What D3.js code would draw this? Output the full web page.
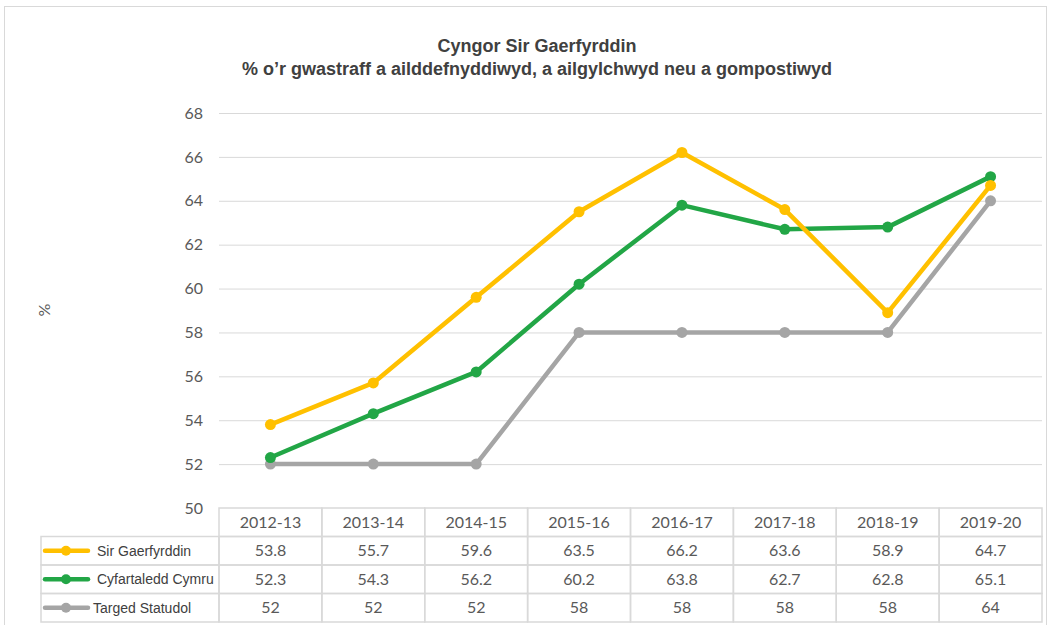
<!DOCTYPE html>
<html>
<head>
<meta charset="utf-8">
<script src="https://cdn.jsdelivr.net/npm/d3@7"></script>
<style>
  body { margin: 0; background: #fff; }
  svg { display: block; }
</style>
</head>
<body>
<svg id="chart" width="1050" height="625"></svg>
<script>
// data
var years = ['2012-13', '2013-14', '2014-15', '2015-16', '2016-17', '2017-18', '2018-19', '2019-20'];
var sirGaerfyrddin = [53.8, 55.7, 59.6, 63.5, 66.2, 63.6, 58.9, 64.7];
var cyfartaleddCymru = [52.3, 54.3, 56.2, 60.2, 63.8, 62.7, 62.8, 65.1];
var targedStatudol = [52, 52, 52, 58, 58, 58, 58, 64];
var seriesNames = ['Sir Gaerfyrddin', 'Cyfartaledd Cymru', 'Targed Statudol'];
var yTicks = [50, 52, 54, 56, 58, 60, 62, 64, 66, 68];

var series = [
  { name: seriesNames[0], values: sirGaerfyrddin, color: '#FFC000' },
  { name: seriesNames[1], values: cyfartaleddCymru, color: '#22A646' },
  { name: seriesNames[2], values: targedStatudol, color: '#A5A5A5' }
];

var svg = d3.select('#chart');
var plotLeft = 219, plotRight = 1042, plotTop = 113, plotBottom = 508;
var rowH = 28.5;

// outer frame
svg.append('rect')
  .attr('x', 4.5).attr('y', 6.5).attr('width', 1042).attr('height', 640)
  .attr('fill', '#fff').attr('stroke', '#D9D9D9').attr('stroke-width', 1);

// title
var title = svg.append('text')
  .attr('text-anchor', 'middle')
  .attr('font-family', 'Liberation Sans, Arial, sans-serif')
  .attr('font-weight', 'bold').attr('font-size', 18).attr('fill', '#404040');
title.append('tspan').attr('x', 537).attr('y', 52).text('Cyngor Sir Gaerfyrddin');
title.append('tspan').attr('x', 537).attr('y', 75).text('% o\u2019r gwastraff a ailddefnyddiwyd, a ailgylchwyd neu a gompostiwyd');

var xScale = d3.scaleBand().domain(years).range([plotLeft, plotRight]);
var yScale = d3.scaleLinear().domain([50, 68]).range([plotBottom, plotTop]);

// gridlines + y axis
var yAxis = svg.append('g')
  .attr('transform', 'translate(' + plotLeft + ',0)')
  .call(d3.axisLeft(yScale).tickValues(yTicks).tickSize(-(plotRight - plotLeft)).tickPadding(16).tickFormat(d3.format('d')));
yAxis.select('.domain').remove();
yAxis.selectAll('.tick line')
  .attr('stroke', '#D9D9D9')
  .attr('stroke-width', function(d){ return d === 50 ? 0 : 1; });
yAxis.selectAll('.tick text')
  .attr('fill', '#595959').attr('font-size', 16)
  .attr('font-family', 'Lato, Carlito, Calibri, sans-serif');

// y label
svg.append('text')
  .attr('transform', 'translate(50,310) rotate(-90)')
  .attr('text-anchor', 'middle')
  .attr('font-family', 'Lato, sans-serif').attr('font-size', 16).attr('fill', '#595959')
  .text('%');

// lines
var lineGen = d3.line()
  .x(function(d, i){ return xScale(years[i]) + xScale.bandwidth() / 2; })
  .y(function(d){ return yScale(d); });

series.slice().reverse().forEach(function(s){
  var g = svg.append('g');
  g.append('path')
    .attr('d', lineGen(s.values))
    .attr('fill', 'none').attr('stroke', s.color)
    .attr('stroke-width', 4.5).attr('stroke-linejoin', 'round').attr('stroke-linecap', 'round');
  g.selectAll('circle').data(s.values).enter().append('circle')
    .attr('cx', function(d, i){ return xScale(years[i]) + xScale.bandwidth() / 2; })
    .attr('cy', function(d){ return yScale(d); })
    .attr('r', 5.5).attr('fill', s.color);
});

// data table
var table = svg.append('g');
var tableLeft = 41;
var gridColor = '#D9D9D9';

// header row
years.forEach(function(y){
  table.append('rect')
    .attr('x', xScale(y)).attr('y', plotBottom)
    .attr('width', xScale.bandwidth()).attr('height', rowH)
    .attr('fill', 'none').attr('stroke', gridColor).attr('stroke-width', 1.5);
  table.append('text')
    .attr('x', xScale(y) + xScale.bandwidth() / 2).attr('y', plotBottom + rowH / 2 + 5.5)
    .attr('text-anchor', 'middle')
    .attr('font-family', 'Lato, Carlito, Calibri, sans-serif').attr('font-size', 16).attr('fill', '#595959')
    .text(y);
});

series.forEach(function(s, r){
  var ry = plotBottom + rowH * (r + 1);
  // row header
  table.append('rect')
    .attr('x', tableLeft).attr('y', ry)
    .attr('width', plotLeft - tableLeft).attr('height', rowH)
    .attr('fill', 'none').attr('stroke', gridColor).attr('stroke-width', 1.5);
  table.append('line')
    .attr('x1', tableLeft + 4).attr('x2', tableLeft + 47)
    .attr('y1', ry + rowH / 2).attr('y2', ry + rowH / 2)
    .attr('stroke', s.color).attr('stroke-width', 4.5).attr('stroke-linecap', 'round');
  table.append('circle')
    .attr('cx', tableLeft + 25).attr('cy', ry + rowH / 2)
    .attr('r', 5).attr('fill', s.color);
  table.append('text')
    .attr('x', r === 2 ? tableLeft + 52 : tableLeft + 56).attr('y', ry + rowH / 2 + 5)
    .attr('font-family', 'Liberation Sans, Arial, sans-serif').attr('font-size', 14).attr('fill', '#404040')
    .text(s.name);
  // values
  s.values.forEach(function(v, i){
    table.append('rect')
      .attr('x', xScale(years[i])).attr('y', ry)
      .attr('width', xScale.bandwidth()).attr('height', rowH)
      .attr('fill', 'none').attr('stroke', gridColor).attr('stroke-width', 1.5);
    table.append('text')
      .attr('x', xScale(years[i]) + xScale.bandwidth() / 2).attr('y', ry + rowH / 2 + 5.5)
      .attr('text-anchor', 'middle')
      .attr('font-family', 'Lato, Carlito, Calibri, sans-serif').attr('font-size', 16).attr('fill', '#595959')
      .text(v);
  });
});
</script>
</body>
</html>
